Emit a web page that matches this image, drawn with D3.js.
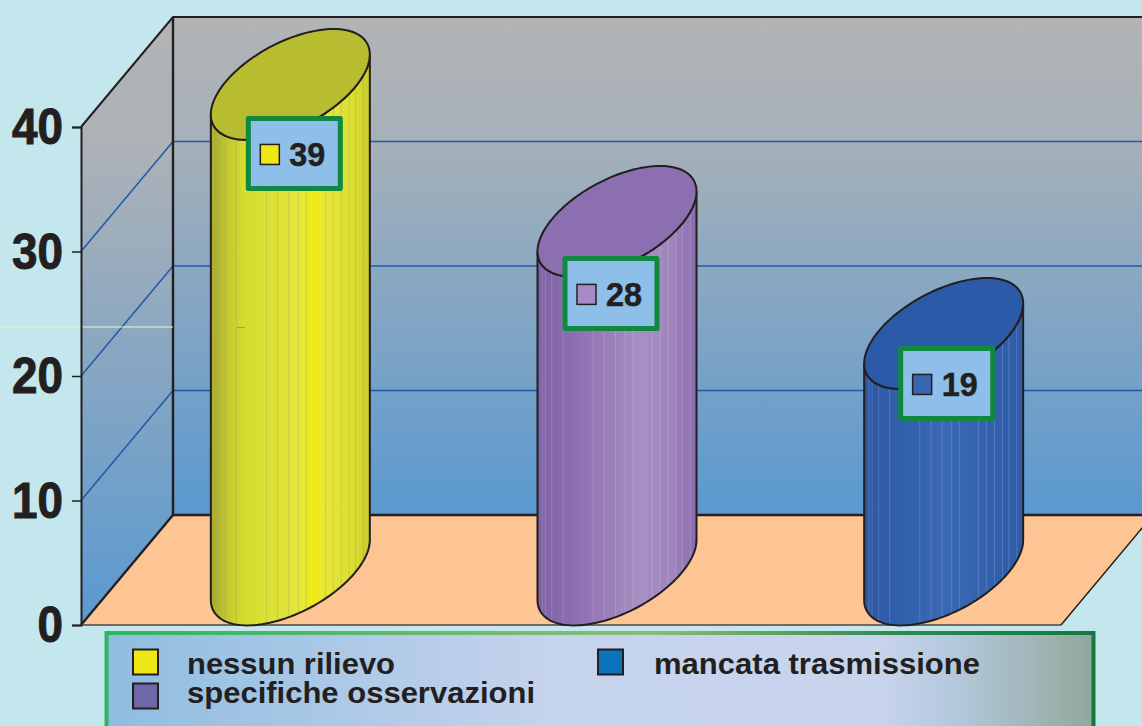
<!DOCTYPE html>
<html>
<head>
<meta charset="utf-8">
<script src="https://cdn.jsdelivr.net/npm/d3@7"></script>
<style>
  html, body { margin: 0; padding: 0; background: #c4e7ed; overflow: hidden; }
  svg { display: block; }
  text { font-family: "Liberation Sans", Arial, sans-serif; font-weight: bold; fill: #231f20; }
</style>
</head>
<body>
<script>
// values
const categories = ["nessun rilievo", "specifiche osservazioni", "mancata trasmissione"];
const values = [39, 28, 19];
const yTicks = [0, 10, 20, 30, 40];
const gridTicks = [10, 20, 30];

// legend is in a different order (and blue) in the original
const legendItems = ["nessun rilievo", "mancata trasmissione", "specifiche osservazioni"];
const legendColors = ["#efe714", "#0b72bd", "#6e68a8"];

const bodyShades = [
    [[0, "#a8aa30"], [0.1, "#c2c630"], [0.2, "#d4dc2e"], [0.5, "#e2e43c"], [0.58, "#e8e838"], [0.63, "#f0ea14"], [0.67, "#eeea1e"], [0.72, "#e6e63a"], [0.88, "#dce034"], [1, "#c8cc30"]],
    [[0, "#7e62a6"], [0.25, "#8e70b0"], [0.65, "#a690c2"], [0.85, "#a084bc"], [1, "#8a6cae"]],
    [[0, "#2c58a6"], [0.5, "#3a68b4"], [1, "#2e5ca8"]]
];
const topColors = ["#b8bc30", "#8c6fb0", "#2a5aa8"];
const chipColors = ["#efe714", "#a58cc4", "#3a66b0"];
// facet lines on the cylinders, as share of the width
const facets = [0.03, 0.05, 0.09, 0.16, 0.35, 0.42, 0.49, 0.55, 0.6, 0.72, 0.77, 0.82, 0.87, 0.91, 0.96];

const W = 1142, H = 726;
const depthX = 92, depthY = -110; // front of the box -> back of the box

const svg = d3.select("body").append("svg").attr("width", W).attr("height", H);
const defs = svg.append("defs");

// scales for the front plane of the box
const y = d3.scaleLinear().domain([0, 40]).range([625, 127]);
const x = d3.scaleBand().domain(categories).range([81, 1061]);
const back = v => y(v) + depthY;
const left = x.range()[0], right = x.range()[1];

function vGrad(id, y1, y2, stops) {
    const g = defs.append("linearGradient").attr("id", id).attr("gradientUnits", "userSpaceOnUse")
        .attr("x1", 0).attr("x2", 0).attr("y1", y1).attr("y2", y2);
    stops.forEach(s => g.append("stop").attr("offset", s[0]).attr("stop-color", s[1]));
}
function hGrad(id, stops) {
    const g = defs.append("linearGradient").attr("id", id);
    stops.forEach(s => g.append("stop").attr("offset", s[0]).attr("stop-color", s[1]));
}
vGrad("backWall", back(40), back(0), [[0, "#b2b4b5"], [0.25, "#a6b0b9"], [1, "#5a99d0"]]);
vGrad("sideWall", back(40), y(0), [[0, "#b2b4b5"], [0.2, "#aeb2b7"], [1, "#5a99d0"]]);
hGrad("legendFill", [[0, "#8fbde0"], [0.45, "#c6d3ec"], [0.78, "#c8d4ec"], [0.86, "#b4c8dc"], [1, "#90a89a"]]);
hGrad("legendLine", [[0, "#2fb560"], [0.55, "#8fbb78"], [0.8, "#2f8a4c"], [1, "#107a40"]]);
bodyShades.forEach((s, i) => hGrad("body" + i, s));

const poly = pts => "M" + pts.map(p => p.join(",")).join("L") + "Z";

// walls and floor
svg.append("path").attr("fill", "url(#backWall)")
    .attr("d", poly([[left + depthX, back(40)], [right + depthX, back(40)], [right + depthX, back(0)], [left + depthX, back(0)]]));
svg.append("path").attr("fill", "url(#sideWall)")
    .attr("d", poly([[left, y(40)], [left + depthX, back(40)], [left + depthX, back(0)], [left, y(0)]]));
svg.append("path").attr("fill", "#fdc593")
    .attr("d", poly([[left, y(0)], [left + depthX, back(0)], [right + depthX, back(0)], [right, y(0)]]));

// gridlines
const grid = svg.append("g").attr("fill", "none").attr("stroke", "#1f5aa8").attr("stroke-width", 1.5);
gridTicks.forEach(t => {
    grid.append("path").attr("d", `M${left},${y(t)}L${left + depthX},${back(t)}L${W},${back(t)}`);
});

// box edges
const edges = svg.append("g").attr("fill", "none").attr("stroke", "#231f20");
edges.append("path").attr("stroke-width", 2).attr("d", `M${left},${y(40)}L${left + depthX},${back(40)}L${W},${back(40)}`);
edges.append("path").attr("stroke-width", 2.4).attr("d", `M${left + depthX},${back(40)}V${back(0)}L${W},${back(0)}`);
edges.append("path").attr("stroke-width", 2.4).attr("d", `M${left},${y(0)}L${left + depthX},${back(0)}`);
edges.append("path").attr("stroke-width", 1.5).attr("d", `M${right},${y(0)}L${right + depthX},${back(0)}`);
edges.append("path").attr("stroke-width", 1.5).attr("stroke", "#4a4646").attr("d", `M${left},${y(0)}H${right}`);

// stray hairline that runs across the original
svg.append("line").attr("x1", 0).attr("x2", left + depthX).attr("y1", 327).attr("y2", 327)
    .attr("stroke", "#e8f2d0").attr("stroke-width", 1);

// cylinders: sheared ellipse, same shape at the base and at the top
const radX = 79.5, skew = 30, radY = 46.6;
const ring = (cx, cy, t) => [cx + radX * Math.cos(t), cy - skew * Math.cos(t) - radY * Math.sin(t)];
const steps = d3.range(0, 61).map(i => Math.PI + i / 60 * Math.PI);
const line = d3.line();

categories.forEach((c, i) => {
    const cx = x(c) + x.bandwidth() / 2 + depthX / 2;
    const h = y(0) - y(values[i]);
    const baseY = y(0) + depthY / 2;
    const topY = baseY - h;
    const front = steps.map(t => ring(cx, baseY, t));
    const frontTop = steps.map(t => ring(cx, topY, t)).reverse();
    const body = line(front.concat(frontTop)) + "Z";
    const full = d3.range(0, 120).map(k => ring(cx, topY, k / 120 * 2 * Math.PI));

    const g = svg.append("g");
    defs.append("clipPath").attr("id", "clip" + i).append("path").attr("d", body);
    g.append("path").attr("d", body).attr("fill", `url(#body${i})`);
    g.append("g").attr("clip-path", `url(#clip${i})`)
        .selectAll("line").data(facets).enter().append("line")
        .attr("x1", d => cx - radX + d * 2 * radX).attr("x2", d => cx - radX + d * 2 * radX)
        .attr("y1", topY - 60).attr("y2", y(0))
        .attr("stroke", i === 0 ? "#9aa860" : "#ffffff").attr("stroke-opacity", i === 0 ? 0.4 : 0.16).attr("stroke-width", 1);
    g.append("path").attr("d", body).attr("fill", "none").attr("stroke", "#231f20").attr("stroke-width", 2);
    g.append("path").attr("d", line(full) + "Z").attr("fill", topColors[i]).attr("stroke", "#231f20").attr("stroke-width", 2);
});

// the little blue dash on the yellow cylinder in the original
svg.append("line").attr("x1", 237).attr("x2", 245).attr("y1", 327.5).attr("y2", 327.5)
    .attr("stroke", "#7f9fb0").attr("stroke-width", 1);

// value callouts, moved by hand in the original
const calloutShift = [[-42, -21], [-52, -18], [-43, -40]];
categories.forEach((c, i) => {
    const cx = x(c) + x.bandwidth() / 2 + depthX / 2;
    const bx = cx + calloutShift[i][0], by = y(values[i]) + calloutShift[i][1];
    const g = svg.append("g").attr("transform", `translate(${bx},${by})`);
    g.append("rect").attr("width", 92).attr("height", 70)
        .attr("fill", "#8ebfe8").attr("stroke", "#10883f").attr("stroke-width", 5).attr("stroke-linejoin", "round");
    g.append("rect").attr("x", 12).attr("y", 26).attr("width", 19).attr("height", 20)
        .attr("fill", chipColors[i]).attr("stroke", "#231f20").attr("stroke-width", 1.5);
    g.append("text").attr("x", 41).attr("y", 47.5).attr("font-size", 33)
        .attr("stroke", "#231f20").attr("stroke-width", 0.5)
        .attr("textLength", 36).attr("lengthAdjust", "spacingAndGlyphs").text(values[i]);
});

// y axis
const axis = svg.append("g").attr("transform", `translate(${left},0)`)
    .call(d3.axisLeft(y).tickValues(yTicks).tickSize(9).tickPadding(9).tickFormat(d3.format("d")));
axis.selectAll(".domain").attr("stroke", "#231f20").attr("stroke-width", 2);
axis.selectAll(".tick line").attr("stroke", "#231f20").attr("stroke-width", 1.5);
axis.selectAll(".tick text")
    .attr("font-family", null).attr("font-size", 50).attr("fill", "#231f20").attr("dy", "0.33em")
    .attr("stroke", "#231f20").attr("stroke-width", 1)
    .attr("textLength", d => String(d).length * 25.5).attr("lengthAdjust", "spacingAndGlyphs");

// legend
svg.append("rect").attr("x", 106.5).attr("y", 633).attr("width", 987).attr("height", 120)
    .attr("fill", "url(#legendFill)").attr("stroke", "url(#legendLine)").attr("stroke-width", 4);

const legendCol = [133, 598, 133], legendRow = [649.5, 649.5, 683.5];
const legendText = [187, 654, 187], legendLen = [208, 326, 348];
const legend = svg.append("g").selectAll("g").data(legendItems).enter().append("g");
legend.append("rect")
    .attr("x", (d, i) => legendCol[i]).attr("y", (d, i) => legendRow[i])
    .attr("width", 25).attr("height", 25)
    .attr("fill", (d, i) => legendColors[i]).attr("stroke", "#231f20").attr("stroke-width", 2);
legend.append("text")
    .attr("x", (d, i) => legendText[i]).attr("y", (d, i) => i === 2 ? 703 : 674)
    .attr("font-size", 29.5)
    .attr("textLength", (d, i) => legendLen[i]).attr("lengthAdjust", "spacingAndGlyphs")
    .text(d => d);
</script>
</body>
</html>
